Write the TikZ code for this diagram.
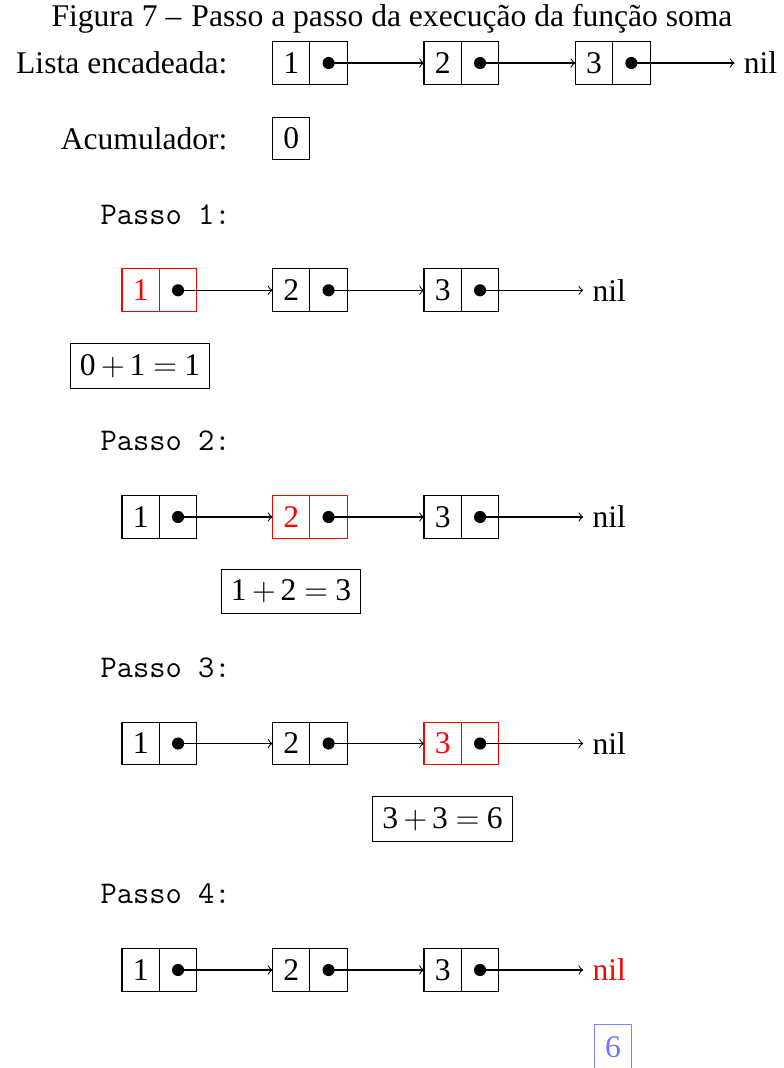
\documentclass[tikz,border=0pt]{standalone}
\usepackage{fontspec}
\setmainfont{Liberation Serif}
\usetikzlibrary{calc}

\tikzset{
  txt/.style={font=\fontsize{12}{14}\selectfont},
  cell/.style={txt, draw, line width=0.4pt, minimum width=14.2pt, minimum height=16.3pt,
               inner sep=0pt, outer sep=0pt},
  hot/.style={draw=red, text=red},
  dotmark/.style={circle, fill=black, inner sep=0pt, minimum size=4.6pt},
  link/.style={->, line width=0.4pt},
  lbl/.style={txt, inner sep=0pt},
  nilnode/.style={txt, inner sep=0.3333em, anchor=west},
  passolbl/.style={txt, font=\fontsize{12}{14}\selectfont\ttfamily, inner sep=0pt, anchor=base west},
  sumbox/.style={txt, draw, line width=0.4pt, inner xsep=0.37em, inner ysep=0.4em},
  total/.style={draw=blue!50, text=blue!55},
  n1/.style={}, n2/.style={}, n3/.style={}, nilst/.style={},
}

% sum: text digits with the math plus and equals signs
\newcommand\sumtext[3]{#1\hspace{0.17em}$+$\hspace{0.15em}#2\hspace{0.24em}$=$\hspace{0.23em}#3}

% one linked list: prefix, row y, left x of the three nodes
\newcommand\listrow[5]{%
  \node[cell, n1, anchor=west] (#1v1) at (#3,#2) {1};
  \node[cell, n1, anchor=west] (#1p1) at (#1v1.east) {\phantom{1}};
  \node[cell, n2, anchor=west] (#1v2) at (#4,#2) {2};
  \node[cell, n2, anchor=west] (#1p2) at (#1v2.east) {\phantom{2}};
  \node[cell, n3, anchor=west] (#1v3) at (#5,#2) {3};
  \node[cell, n3, anchor=west] (#1p3) at (#1v3.east) {\phantom{3}};
  \node[nilnode, nilst] (#1nil) at ($(#1p3.east)+(84.5,0)$) {nil};
  \draw[link] (#1p1.center) -- (#1v2.west);
  \draw[link] (#1p2.center) -- (#1v3.west);
  \draw[link] (#1p3.center) -- (#1nil.west);
  \node[dotmark] (#1d1) at (#1p1.center) {};
  \node[dotmark] (#1d2) at (#1p2.center) {};
  \node[dotmark] (#1d3) at (#1p3.center) {};
}

\begin{document}
\begin{tikzpicture}[x=0.38pt, y=-0.38pt]
  \useasboundingbox (0,0) rectangle (784,1068);

  % caption
  \node[lbl, anchor=base] (title) at (392,26)
    {Figura 7 –\hspace{0.32em}Passo a passo da execução da função soma};

  % the list and the accumulator
  \node[lbl, anchor=base east] (listlbl) at (228,73.5) {Lista encadeada:};
  \listrow{a}{63}{272.5}{424}{575.3}
  \node[lbl, anchor=base east] (acclbl) at (228,149) {Acumulador:};
  \node[cell, anchor=west] (acc) at (272.5,138.5) {0};

  % step 1
  \node[passolbl] (s1) at (100,224) {Passo 1:};
  \begin{scope}[n1/.style={hot}]
    \listrow{b}{290.3}{122}{272.5}{424}
  \end{scope}
  \node[sumbox] (sum1) at (140,366) {\sumtext{0}{1}{1}};

  % step 2
  \node[passolbl] (s2) at (100,450.5) {Passo 2:};
  \begin{scope}[n2/.style={hot}]
    \listrow{c}{517}{122}{272.5}{424}
  \end{scope}
  \node[sumbox] (sum2) at (291,591.5) {\sumtext{1}{2}{3}};

  % step 3
  \node[passolbl] (s3) at (100,677) {Passo 3:};
  \begin{scope}[n3/.style={hot}]
    \listrow{d}{743.5}{122}{272.5}{424}
  \end{scope}
  \node[sumbox] (sum3) at (442.5,819) {\sumtext{3}{3}{6}};

  % step 4
  \node[passolbl] (s4) at (100,903.5) {Passo 4:};
  \begin{scope}[nilst/.style={text=red}]
    \listrow{e}{970}{122}{272.5}{424}
  \end{scope}
  \node[cell, total, minimum height=17pt] (res) at (613,1047) {6};
\end{tikzpicture}
\end{document}
